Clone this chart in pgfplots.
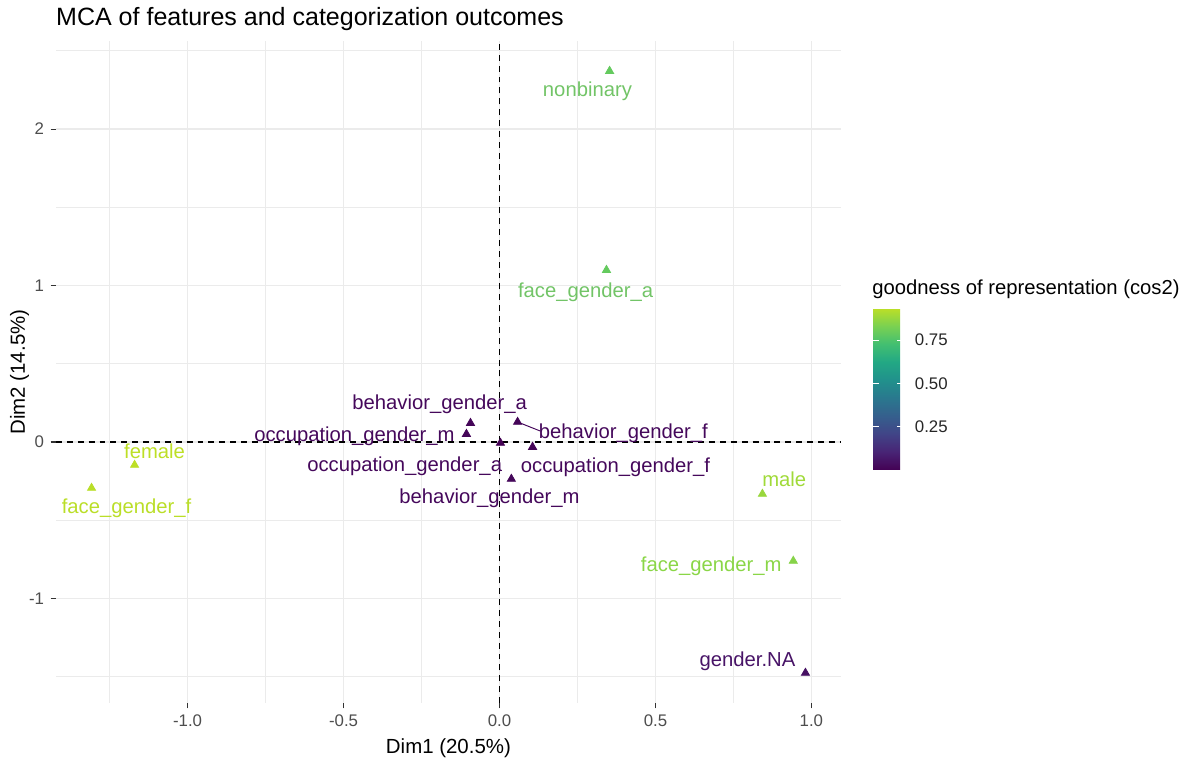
\documentclass[border=0pt]{standalone}
\usepackage{pgfplots}
\pgfplotsset{compat=1.18}
\usetikzlibrary{calc}
\usepackage{fontspec}
\setmainfont{Liberation Sans}
\definecolor{gridc}{HTML}{EBEBEB}
\definecolor{tickc}{HTML}{333333}
\definecolor{ticklab}{HTML}{4D4D4D}
\definecolor{cFemale}{HTML}{BDDF26}
\definecolor{cFaceF}{HTML}{BADE28}
\definecolor{cMale}{HTML}{A0DA39}
\definecolor{cFaceM}{HTML}{8AD647}
\definecolor{cNonb}{HTML}{72C467}
\definecolor{cDark}{HTML}{45085B}
\definecolor{cNA}{HTML}{481467}
\tikzset{lab/.style={font=\fontsize{10.6pt}{12pt}\selectfont, inner sep=0pt}}
\pgfplotsset{colormap={vir}{rgb255=(68,1,84) rgb255=(72,36,117) rgb255=(65,68,135) rgb255=(53,95,141) rgb255=(42,120,142) rgb255=(33,145,140) rgb255=(34,168,132) rgb255=(67,191,113) rgb255=(122,209,81) rgb255=(189,223,38)}}
\pgfplotstableread{
x y c
-0.093 0.121 0.012
-0.106 0.051 0.015
0.003 -0.006 0.001
0.058 0.128 0.010
0.106 -0.032 0.008
0.038 -0.236 0.020
0.353 2.371 0.79
0.343 1.099 0.79
-1.170 -0.147 0.936
-1.308 -0.294 0.93
0.843 -0.332 0.88
0.942 -0.760 0.85
0.981 -1.476 0.045
}\mcadata
\begin{document}
\begin{tikzpicture}
\path[use as bounding box] (0,0) rectangle (620.47pt,397.41pt);
\begin{axis}[
  at={(29.32pt,29.32pt)}, anchor=south west,
  scale only axis, width=411.03pt, height=346.62pt,
  xmin=-1.422, xmax=1.095, ymin=-1.668, ymax=2.563,
  axis line style={draw=none},
  tick pos=left,
  xtick={-1,-0.5,0,0.5,1}, xticklabels={-1.0,-0.5,0.0,0.5,1.0},
  ytick={-1,0,1,2}, yticklabels={-1,0,1,2},
  minor xtick={-1.25,-0.75,-0.25,0.25,0.75},
  minor ytick={-1.5,-0.5,0.5,1.5,2.5},
  grid=both,
  major grid style={draw=gridc, line width=0.75pt},
  minor grid style={draw=gridc, line width=0.45pt},
  tick align=outside, major tick length=2.75pt, minor tick length=0pt,
  tick style={draw=tickc, line width=0.55pt},
  ticklabel style={font=\fontsize{8.8pt}{10pt}\selectfont, text=ticklab},
  colormap name=vir, point meta min=0, point meta max=0.936,
  colorbar,
  colorbar shift/.style={},
  colorbar style={
    at={($(parent axis.south east)+(16.76pt,122.0pt)$)}, anchor=south west,
    scale only axis, width=15.71pt, height=84.82pt,
    ytick={0.25,0.5,0.75}, yticklabels={0.25,0.50,0.75},
    ytick pos=both, yticklabel pos=right,
    tick align=inside, major tick length=3.1pt,
    tick style={draw=white, line width=0.55pt},
    axis line style={draw=none},
    yticklabel style={font=\fontsize{8.8pt}{10pt}\selectfont, text=black!85, xshift=2.7pt},
  },
]
\addplot[black, line width=0.55pt, dash pattern=on 3.1pt off 2.6pt, forget plot] coordinates {(0,-1.668) (0,2.563)};
\addplot[black, line width=0.55pt, dash pattern=on 3.1pt off 2.6pt, forget plot] coordinates {(-1.422,0) (1.095,0)};
\addplot[cDark, line width=0.5pt, forget plot] coordinates {(0.058,0.128) (0.131,0.070)};
\addplot[scatter, only marks, mark=triangle*, mark size=2.45pt, scatter src=explicit,
  scatter/use mapped color={draw=mapped color, fill=mapped color}] table[x=x, y=y, meta=c] {\mcadata};
\node[lab, text=cNonb] at (axis cs:0.282,2.243) {nonbinary};
\node[lab, text=cNonb] at (axis cs:0.276,0.958) {face\_gender\_a};
\node[lab, text=cDark] at (axis cs:-0.192,0.243) {behavior\_gender\_a};
\node[lab, text=cDark] at (axis cs:-0.465,0.038) {occupation\_gender\_m};
\node[lab, text=cDark] at (axis cs:0.397,0.058) {behavior\_gender\_f};
\node[lab, text=cDark] at (axis cs:-0.304,-0.153) {occupation\_gender\_a};
\node[lab, text=cDark] at (axis cs:0.372,-0.160) {occupation\_gender\_f};
\node[lab, text=cDark] at (axis cs:-0.032,-0.358) {behavior\_gender\_m};
\node[lab, text=cFemale] at (axis cs:-1.106,-0.058) {female};
\node[lab, text=cFaceF] at (axis cs:-1.196,-0.422) {face\_gender\_f};
\node[lab, text=cMale] at (axis cs:0.913,-0.236) {male};
\node[lab, text=cFaceM] at (axis cs:0.679,-0.792) {face\_gender\_m};
\node[lab, text=cNA] at (axis cs:0.795,-1.399) {gender.NA};
\end{axis}
\node[anchor=base west, font=\fontsize{13.1pt}{15pt}\selectfont] at (25.9pt,383.8pt) {MCA of features and categorization outcomes};
\node[font=\fontsize{10.7pt}{12pt}\selectfont] at (234.8pt,5.76pt) {Dim1 (20.5\%)};
\node[rotate=90, font=\fontsize{10.7pt}{12pt}\selectfont] at (10.2pt,202.6pt) {Dim2 (14.5\%)};
\node[anchor=west, inner sep=0pt, font=\fontsize{10.6pt}{12pt}\selectfont] at (456.6pt,246.1pt) {goodness of representation (cos2)};
\end{tikzpicture}
\end{document}
